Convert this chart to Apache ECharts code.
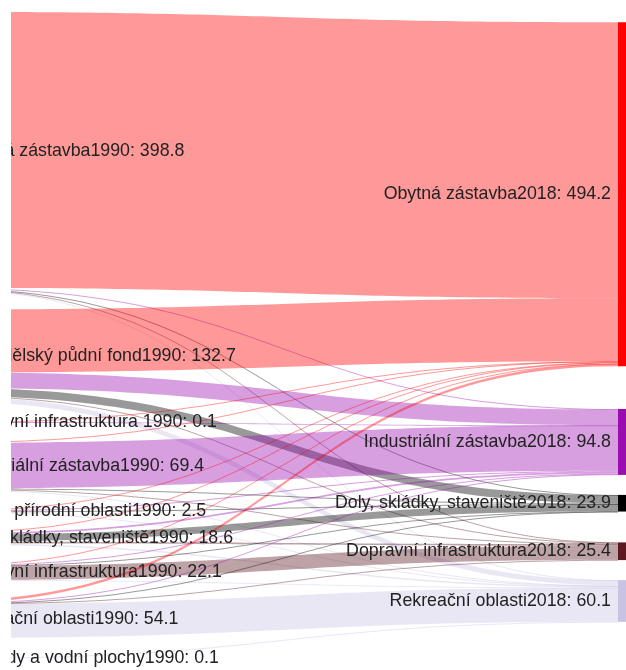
<!DOCTYPE html>
<html>
<head>
<meta charset="utf-8">
<script src="https://cdn.jsdelivr.net/npm/echarts@6/dist/echarts.min.js"></script>
<style>
  html, body { margin: 0; padding: 0; background: #ffffff; }
  #clip { position: absolute; left: 11px; top: 0; width: 615px; height: 670px; overflow: hidden; }
  #chart { position: absolute; left: -11px; top: 0; width: 626px; height: 670px; }
</style>
</head>
<body>
<div id="clip"><div id="chart"></div></div>
<script>
const leftNodes = [
  'Obytná zástavba1990',
  'Zemědělský půdní fond1990',
  'Dopravní infrastruktura 1990',
  'Industriální zástavba1990',
  'Lesy a přírodní oblasti1990',
  'Doly, skládky, staveniště1990',
  'Dopravní infrastruktura1990',
  'Rekreační oblasti1990',
  'Mokřady a vodní plochy1990'
];
const leftValues = [398.8, 132.7, 0.1, 69.4, 2.5, 18.6, 22.1, 54.1, 0.1];

const rightNodes = [
  'Obytná zástavba2018',
  'Industriální zástavba2018',
  'Doly, skládky, staveniště2018',
  'Dopravní infrastruktura2018',
  'Rekreační oblasti2018'
];
const rightValues = [494.2, 94.8, 23.9, 25.4, 60.1];

// flows[i][j]: from leftNodes[i] to rightNodes[j]
const flows = [
  [396.6, 1.0, 0.6, 0.3, 0.3],
  [90.25, 22.5, 11.4, 1.27, 7.28],
  [0.05, 0.05, 0, 0, 0],
  [1.5, 65.15, 1.2, 0.8, 0.75],
  [0.3, 1.6, 0.3, 0, 0.3],
  [1.5, 2.5, 10.0, 2.43, 2.17],
  [0.5, 1.0, 0.2, 20.0, 0.4],
  [3.5, 1.0, 0.2, 0.6, 48.8],
  [0, 0, 0, 0, 0.1]
];

const leftColors = ['#ff0000', '#c8a000', '#5c1a20', '#9a0eb0', '#2e8b3a', '#000000', '#5c1a20', '#c9c3e3', '#3a6fc4'];
const rightColors = ['#ff0000', '#9a0eb0', '#000000', '#5c1a20', '#c9c3e3'];

const nodes = [];
leftNodes.forEach((n, i) => nodes.push({ name: n, value: leftValues[i], depth: 0, itemStyle: { color: leftColors[i] } }));
rightNodes.forEach((n, i) => nodes.push({ name: n, value: rightValues[i], depth: 1, itemStyle: { color: rightColors[i] } }));

const links = [];
flows.forEach((row, i) => row.forEach((v, j) => {
  if (v > 0) links.push({ source: leftNodes[i], target: rightNodes[j], value: v });
}));

const chart = echarts.init(document.getElementById('chart'), null, { renderer: 'canvas' });
chart.setOption({
  animation: false,
  backgroundColor: '#ffffff',
  series: [{
    type: 'sankey',
    left: -60,
    right: -2,
    top: 12,
    bottom: 12,
    nodeWidth: 10,
    nodeGap: 20,
    draggable: false,
    emphasis: { disabled: true },
    data: nodes,
    links: links,
    itemStyle: { borderWidth: 0 },
    lineStyle: { color: 'target', opacity: 0.4, curveness: 0.5 },
    label: {
      color: '#222222',
      fontFamily: '"Liberation Sans", Arial, sans-serif',
      fontSize: 17.8,
      distance: 7,
      formatter: function (p) { return p.name + ': ' + p.data.value; }
    },
    levels: [
      { depth: 0, label: { position: 'right' } },
      { depth: 1, label: { position: 'left' } }
    ]
  }]
});
</script>
</body>
</html>
